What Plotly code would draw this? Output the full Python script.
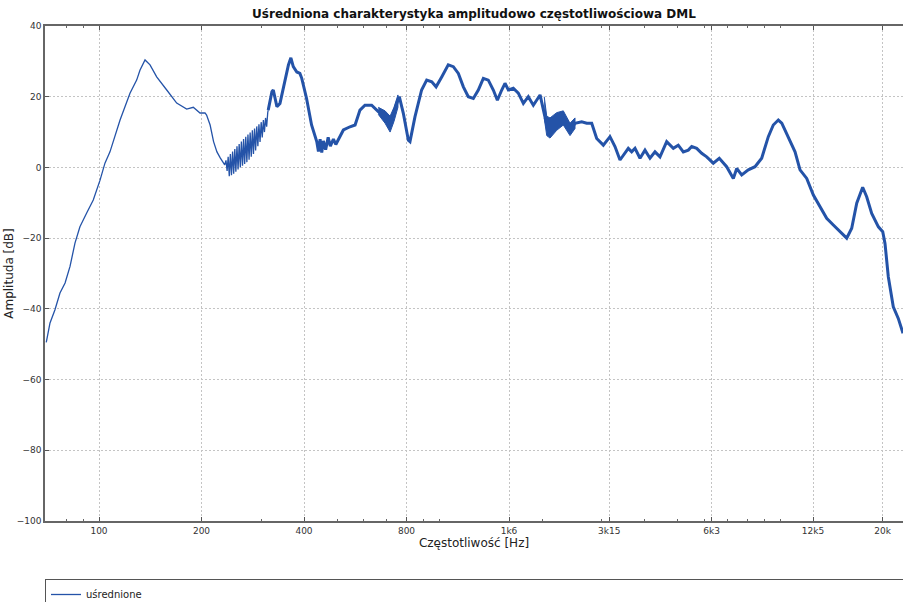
import plotly.graph_objects as go

# Averaged DML response: frequency [Hz] and amplitude [dB]
freq_low = [
    70, 71.8, 74.2, 76.8, 79.5, 82.2, 85.0, 87.9, 92.0, 96.2, 100.7, 104.1,
    107.7, 115.3, 123.3, 129, 131.9, 136.5, 141.2, 147.7, 158.1, 169.1,
    180.9, 189.2, 198, 204.8, 207, 212, 217, 222, 227, 234,
    # comb region (peaks and troughs)
    236, 237.8, 239.5, 241.3, 243.1, 244.9, 246.8, 248.6, 250.5, 252.3,
    254.2, 256.1, 258.0, 260.0, 261.9, 263.9, 265.8, 267.8, 269.8, 271.8,
    273.8, 275.9, 277.9, 280.0, 282.1, 284.2, 286.3, 288.4, 290.6, 292.8,
    294.9, 297.1, 299.4, 301.6, 303.9, 306.1, 308.4, 310.7, 313.0, 314,
]
amp_low = [
    -49.5, -44, -40.3, -35.5, -32.7, -28, -21.4, -16.8, -12.9, -9.2, -3.6, 1.2,
    4.4, 13.4, 21, 24.7, 27.5, 30.4, 29, 25.6, 21.9, 18.2,
    16.5, 17, 15.4, 15.4, 14.8, 12, 7.3, 4.4, 2.7, 0.7,
    2.0, -1.0, 3.0, -2.5, 3.8, -2.2, 4.5, -1.8, 5.2, -1.2,
    6.0, -0.6, 6.6, 0.0, 7.3, 0.5, 8.0, 1.0, 8.7, 1.5,
    9.3, 2.2, 9.9, 3.0, 10.5, 3.8, 11.0, 4.8, 11.6, 6.0,
    12.2, 7.2, 12.8, 8.5, 13.4, 10.0, 14.0, 11.5, 15.5, 16.2,
]

freq_high = [
    314, 322, 325, 329, 333, 340, 344, 352, 360, 366, 372, 381, 389, 394,
    407, 421, 436, 441, 446, 451, 456, 463, 471, 478, 488, 496, 504, 522,
    546, 565, 584, 604, 632,
    661, 692, 716, 740, 762, 783, 810, 819, 847, 886, 917, 949, 977, 1015,
    1061, 1098, 1136, 1175, 1215, 1257, 1300, 1345, 1391, 1439, 1479, 1523,
    1557, 1593, 1647, 1704, 1763, 1823, 1886, 1974, 2065, 2111, 2209, 2310,
    2417, 2500, 2616, 2706, 2799, 2895, 3028, 3167, 3276, 3389, 3505, 3584,
    3668, 3751, 3880, 4013, 4151, 4294, 4441, 4647, 4860, 5026, 5200, 5379,
    5504, 5693, 5889, 6091, 6369, 6632, 6971, 7293, 7463, 7719, 8071, 8445,
    8835, 9239, 9556, 9886, 10120, 10580, 11070, 11450, 11980, 12530, 13110,
    13710, 14340, 15010, 15700, 16240, 16800, 17490, 17970, 18590, 19450,
    20030, 20340, 20800, 21510, 22250, 22970,
]
amp_high = [
    16.2, 21.4, 21.9, 19.5, 17.2, 18.1, 20.5, 24.2, 29, 31, 28.5, 27, 26.6, 25.2,
    19.5, 12, 7.3, 4.5, 8, 4.2, 7.5, 5, 8.5, 6, 8, 6.5, 7.8, 10.6,
    11.5, 12, 16.2, 17.6, 17.6,
    15.8, 14.3, 12, 16.7, 20, 15.3, 7.7, 7.3, 14.3, 21.9, 24.7, 24.2, 22.8, 25.6,
    29, 28.5, 26.6, 22.8, 20, 19.5, 21.9, 25.2, 24.7, 21.9, 19, 21.9,
    23.8, 21.9, 22.4, 21, 18.1, 20, 17.6, 20.5, 12, 11, 13.4, 14.3,
    10.1, 12.5, 12.9, 12.5, 12.5, 8.2, 6.3, 8.7, 5.9, 2.1, 4, 5.4,
    4.4, 5.4, 2.6, 4.9, 2.6, 4.4, 3, 7.3, 5.4, 6.3, 4.4, 4.9,
    5.9, 5.4, 4, 3, 1.2, 2.6, 0.2, -3.1, -0.3, -2.1, -0.7, 0.2,
    2.6, 8.7, 12, 13.4, 12.5, 8.7, 4.4, -0.7, -3.1, -7.8, -11.1,
    -14.4, -16.3, -18.2, -20, -17.2, -10.1, -5.6, -8.3, -13, -16.8,
    -18.2, -21.5, -30.9, -39.4, -42.7, -46.9,
]

# Spread of the averaged curve where it is widest (upper / lower limits)
band1_freq = [661, 692, 716, 735, 755]
band1_upper = [17, 16, 14.5, 17, 20.5]
band1_lower = [15, 12.5, 10, 13, 17]
band2_freq = [2030, 2065, 2111, 2209, 2310, 2417, 2500]
band2_upper = [20, 14.5, 14, 15.5, 16, 12.5, 14]
band2_lower = [14, 9, 8.3, 10.5, 12, 9, 11]

tick_vals = [100, 200, 400, 800, 1600, 3150, 6300, 12500, 20000]
tick_text = ["100", "200", "400", "800", "1k6", "3k15", "6k3", "12k5", "20k"]
minor_vals = [80, 90, 300, 500, 600, 700, 900, 1000, 2000, 3000, 4000,
              5000, 6000, 7000, 8000, 9000, 10000]

line_color = "#2453a8"
font_family = "DejaVu Sans"

fig = go.Figure()
fig.add_trace(go.Scatter(
    x=freq_low, y=amp_low, mode="lines", name="uśrednione",
    line=dict(color=line_color, width=1.3),
))
fig.add_trace(go.Scatter(
    x=freq_high, y=amp_high, mode="lines", name="uśrednione",
    showlegend=False, line=dict(color=line_color, width=3.0),
))
for bf, bu, bl in [(band1_freq, band1_upper, band1_lower),
                   (band2_freq, band2_upper, band2_lower)]:
    fig.add_trace(go.Scatter(
        x=bf + bf[::-1], y=bu + bl[::-1], mode="lines", fill="toself",
        fillcolor=line_color, line=dict(color=line_color, width=1),
        showlegend=False, hoverinfo="skip",
    ))

W, H = 903, 602
L, R, T, B = 45, 0, 26, 81
plot_h = H - T - B

fig.update_layout(
    width=W, height=H,
    margin=dict(l=L, r=R, t=T, b=B, autoexpand=False),
    paper_bgcolor="white", plot_bgcolor="white",
    font=dict(family=font_family, color="#222"),
    title=dict(
        text="<b>Uśredniona charakterystyka amplitudowo częstotliwościowa DML</b>",
        x=0.5, xref="paper", y=1 - 14 / H, yref="container",
        xanchor="center", yanchor="middle",
        font=dict(size=12, color="#111"),
    ),
    showlegend=True,
    legend=dict(
        orientation="h", x=0, xanchor="left",
        y=-(579 - (H - B)) / plot_h, yanchor="top",
        entrywidth=880, entrywidthmode="pixels", itemwidth=30,
        bgcolor="white", bordercolor="#555", borderwidth=1,
        font=dict(size=10, color="#222"),
    ),
)

fig.update_xaxes(
    type="log", range=[1.8414, 4.3612],
    tickmode="array", tickvals=tick_vals, ticktext=tick_text,
    ticks="inside", ticklen=4, tickcolor="#555",
    tickfont=dict(size=9, color="#333"),
    showline=True, linecolor="#666", linewidth=1.5, mirror="ticks",
    showgrid=True, gridcolor="#c4c4c4", griddash="2px,2px", gridwidth=1,
    minor=dict(tickvals=minor_vals, ticks="inside", ticklen=2,
               tickcolor="#666", showgrid=False),
    zeroline=False, automargin=False,
    title=dict(text="Częstotliwość [Hz]", font=dict(size=12, color="#222"),
               standoff=1),
)
fig.update_yaxes(
    range=[-100, 40], tickmode="linear", tick0=-100, dtick=20,
    ticks="inside", ticklen=4, tickcolor="#555",
    tickfont=dict(size=9, color="#333"),
    showline=True, linecolor="#666", linewidth=1.5,
    showgrid=True, gridcolor="#c4c4c4", griddash="2px,2px", gridwidth=1,
    zeroline=False, automargin=False,
    title=dict(text="Amplituda [dB]", font=dict(size=12, color="#222"),
               standoff=1),
)

fig.write_html("out.html")
